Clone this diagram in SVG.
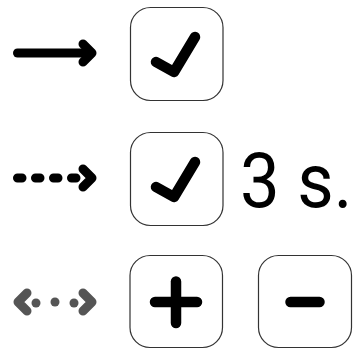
<svg xmlns="http://www.w3.org/2000/svg" width="355" height="349" viewBox="0 0 355 349">
<style>
.box{fill:#fff;stroke:#333;stroke-width:1.2}
.ic{fill:none;stroke:#000;stroke-width:10.5;stroke-linecap:round;stroke-linejoin:round}
.ar{fill:none;stroke:#000;stroke-width:9;stroke-linecap:round;stroke-linejoin:round}
.g{stroke:#555;fill:none;stroke-width:9;stroke-linecap:round;stroke-linejoin:round}
.t{font-family:Roboto,"Liberation Sans",sans-serif;font-size:76px;fill:#000}
</style>
<rect width="355" height="349" fill="#fff"/>
<g id="connectors">
  <g id="solid-arrow">
    <line class="ar" x1="17.5" y1="53" x2="86" y2="53"/>
    <polyline class="ar" points="83,44 92,53 83,62"/>
  </g>
  <g id="dashed-arrow">
    <line class="ar" x1="17.5" y1="178" x2="80" y2="178" stroke-dasharray="4.5 13.5"/>
    <polyline class="ar" points="83,169 92,178 83,187"/>
  </g>
  <g id="double-arrow">
    <polyline class="g" points="27,293 18,302 27,311"/>
    <polyline class="g" points="83,293 92,302 83,311"/>
    <circle cx="36" cy="303" r="4.5" fill="#555"/>
    <circle cx="55" cy="302" r="4.5" fill="#555"/>
    <circle cx="74" cy="303" r="4.5" fill="#555"/>
  </g>
</g>
<g id="check1">
  <rect class="box" x="130.5" y="7.5" width="92.5" height="93" rx="20"/>
  <polyline class="ic" points="156,62 174,72 195,37"/>
</g>
<g id="check2">
  <rect class="box" x="130.5" y="132.5" width="92.5" height="93" rx="20"/>
  <polyline class="ic" points="156,187 174,197 195,162"/>
</g>
<g id="label">
  <text class="t" transform="translate(240,207) scale(0.93,1)" x="0" y="0">3 s.</text>
</g>
<g id="plus">
  <rect class="box" x="130" y="255.5" width="92.5" height="92" rx="20"/>
  <line class="ic" x1="155" y1="302" x2="197" y2="302"/>
  <line class="ic" x1="176" y1="281.5" x2="176" y2="323"/>
</g>
<g id="minus">
  <rect class="box" x="258.5" y="255.5" width="93" height="92" rx="20"/>
  <line class="ic" x1="290.5" y1="302" x2="319.5" y2="302"/>
</g>
</svg>
